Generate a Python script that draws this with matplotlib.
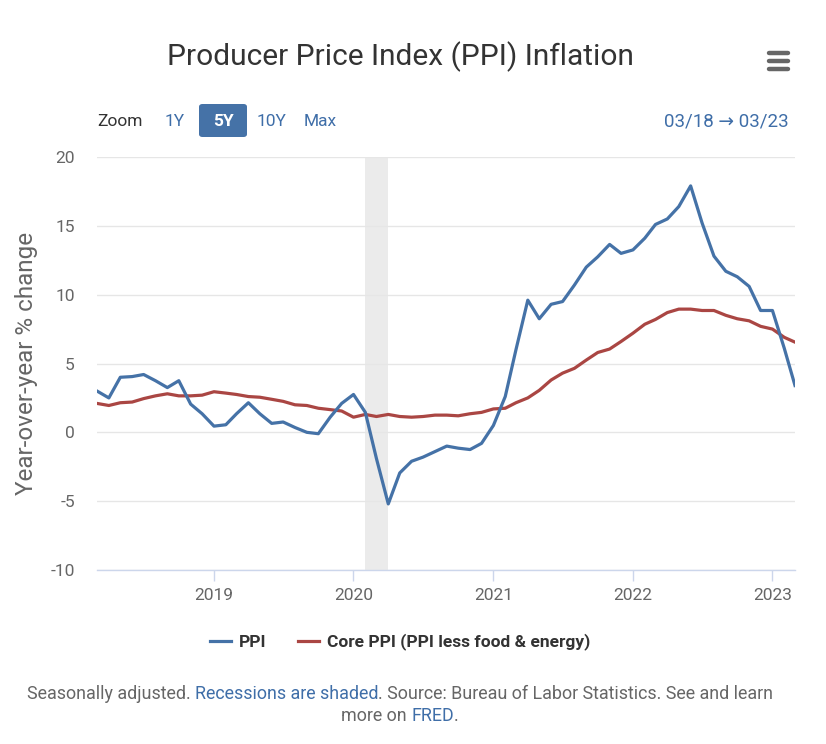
import numpy as np
import pandas as pd
import matplotlib
matplotlib.use("Agg")
import matplotlib.pyplot as plt
import matplotlib.dates as mdates
from matplotlib.patches import FancyBboxPatch
from matplotlib.lines import Line2D

plt.rcParams["font.family"] = ["Roboto", "DejaVu Sans"]

# ------------------------------------------------------------------
# DATA (monthly, Mar 2018 -> Mar 2023, YoY % change)
# ------------------------------------------------------------------
START_MONTH = "2018-03-01"

ppi = [
    3.0, 2.5, 4.0, 4.05, 4.2, 3.75, 3.25, 3.75, 2.05, 1.35, 0.45, 0.55,   # 2018-03 .. 2019-02
    1.35, 2.15, 1.35, 0.65, 0.75, 0.35, 0.0, -0.1, 1.1, 2.1, 2.75, 1.45,  # 2019-03 .. 2020-02
    -1.9, -5.2, -2.95, -2.1, -1.8, -1.4, -1.0, -1.15, -1.25, -0.8, 0.5,   # 2020-03 .. 2021-01
    2.6, 6.0, 9.6, 8.25, 9.3, 9.5, 10.7, 12.0, 12.75, 13.65, 13.0,        # 2021-02 .. 2021-12
    13.25, 14.1, 15.1, 15.5, 16.4, 17.9, 15.2, 12.8, 11.7, 11.3, 10.6,    # 2022-01 .. 2022-11
    8.85, 8.85, 6.1, 3.4,                                                 # 2022-12 .. 2023-03
]

core_ppi = [
    2.1, 1.95, 2.15, 2.2, 2.45, 2.65, 2.8, 2.65, 2.65, 2.7, 2.95, 2.85,   # 2018-03 .. 2019-02
    2.75, 2.6, 2.55, 2.4, 2.25, 2.0, 1.95, 1.75, 1.65, 1.55, 1.1, 1.3,    # 2019-03 .. 2020-02
    1.15, 1.3, 1.15, 1.1, 1.15, 1.25, 1.25, 1.2, 1.35, 1.45, 1.7,         # 2020-03 .. 2021-01
    1.75, 2.15, 2.5, 3.05, 3.8, 4.3, 4.65, 5.25, 5.8, 6.05, 6.6,          # 2021-02 .. 2021-12
    7.2, 7.85, 8.2, 8.7, 8.95, 8.95, 8.85, 8.85, 8.5, 8.25, 8.1,          # 2022-01 .. 2022-11
    7.7, 7.5, 6.9, 6.55,                                                  # 2022-12 .. 2023-03
]

RECESSION = ("2020-02-01", "2020-04-01")

SERIES_NAMES = ["PPI", "Core PPI (PPI less food & energy)"]
Y_TICKS = [-10, -5, 0, 5, 10, 15, 20]
X_TICK_YEARS = [2019, 2020, 2021, 2022, 2023]

# ------------------------------------------------------------------
# STYLE
# ------------------------------------------------------------------
W, H = 826, 744
BLUE = "#4572A7"
RED = "#AA4643"
TEXT_DARK = "#333333"
TEXT_GRAY = "#666666"
LINK_BLUE = "#3f6ea8"
GRID = "#e6e6e6"


def fx(x):
    return x / W


def fy(y):
    return 1 - y / H


dates = pd.date_range(START_MONTH, periods=len(ppi), freq="MS")

fig = plt.figure(figsize=(W / 100, H / 100), dpi=100)
ax = fig.add_axes([fx(97), fy(570), (795 - 97) / W, (570 - 157) / H])

# recession band
ax.axvspan(pd.Timestamp(RECESSION[0]), pd.Timestamp(RECESSION[1]),
           color="#ebebeb", lw=0, zorder=0)

ax.plot(dates, ppi, color=BLUE, lw=2.3, solid_joinstyle="round", zorder=3)
ax.plot(dates, core_ppi, color=RED, lw=2.3, solid_joinstyle="round", zorder=2)

ax.set_xlim(dates[0], dates[-1])
ax.set_ylim(-10, 20)
ax.set_yticks(Y_TICKS)
ax.set_yticklabels([str(v) for v in Y_TICKS])
ax.yaxis.grid(True, color=GRID, lw=1)
ax.set_axisbelow(True)

ax.set_xticks([pd.Timestamp(f"{y}-01-01") for y in X_TICK_YEARS])
ax.xaxis.set_major_formatter(mdates.DateFormatter("%Y"))

for s in ["top", "right", "left"]:
    ax.spines[s].set_visible(False)
ax.spines["bottom"].set_color("#ccd6eb")
ax.spines["bottom"].set_linewidth(1)

ax.tick_params(axis="y", length=0, pad=16, labelsize=12.5, labelcolor=TEXT_GRAY)
ax.tick_params(axis="x", length=8, width=1, color="#ccd6eb", pad=5,
               labelsize=12.5, labelcolor=TEXT_GRAY)

ax.set_ylabel("Year-over-year % change", fontsize=17.5, color=TEXT_GRAY)
ax.yaxis.set_label_coords(fx(38 - 97) / ((795 - 97) / W), 0.5)

# ------------------------------------------------------------------
# header: title, menu icon, zoom buttons
# ------------------------------------------------------------------
fig.text(fx(400), fy(57), "Producer Price Index (PPI) Inflation",
         ha="center", va="center", fontsize=21.5, color=TEXT_DARK)

for yy in (53, 61, 69):
    fig.add_artist(Line2D([fx(769), fx(788)], [fy(yy), fy(yy)], color="#666666",
                          lw=3.2, solid_capstyle="round"))

fig.text(fx(97), fy(121), "Zoom", ha="left", va="center", fontsize=12.5, color=TEXT_DARK)
fig.add_artist(FancyBboxPatch((fx(199), fy(137)), fx(48), (137 - 104) / H,
                              boxstyle="round,pad=0,rounding_size=0.004",
                              facecolor=BLUE, edgecolor="none"))
fig.text(fx(175), fy(121), "1Y", ha="center", va="center", fontsize=12.5, color=LINK_BLUE)
fig.text(fx(223), fy(121), "5Y", ha="center", va="center", fontsize=12.5,
         color="white", fontweight="bold")
fig.text(fx(271), fy(121), "10Y", ha="center", va="center", fontsize=12.5, color=LINK_BLUE)
fig.text(fx(320), fy(121), "Max", ha="center", va="center", fontsize=12.5, color=LINK_BLUE)
fig.text(fx(789), fy(121), "03/18 \u2192 03/23", ha="right", va="center",
         fontsize=13.5, color=LINK_BLUE)

# ------------------------------------------------------------------
# legend
# ------------------------------------------------------------------
handles = [Line2D([], [], color=BLUE, lw=2.3), Line2D([], [], color=RED, lw=2.3)]
fig.legend(handles, SERIES_NAMES, loc="center", bbox_to_anchor=(fx(400), fy(642)),
           ncol=2, frameon=False, handlelength=1.2, handletextpad=0.45,
           columnspacing=1.85, prop={"size": 12.5, "weight": "bold"},
           labelcolor=TEXT_DARK)

# ------------------------------------------------------------------
# footer with coloured link segments
# ------------------------------------------------------------------
def segmented_line(parts, y_px, size=12.9, center_px=400):
    fig.canvas.draw()
    r = fig.canvas.get_renderer()
    texts = [fig.text(0, fy(y_px), s, fontsize=size, color=c, va="center", ha="left")
             for s, c in parts]
    widths = [t.get_window_extent(r).width for t in texts]
    x = center_px - sum(widths) / 2
    for t, w in zip(texts, widths):
        t.set_x(fx(x))
        x += w


FOOT_GRAY = "#666666"
segmented_line([("Seasonally adjusted. ", FOOT_GRAY),
                ("Recessions are shaded", LINK_BLUE),
                (". Source: Bureau of Labor Statistics. See and learn", FOOT_GRAY)], 694)
segmented_line([("more on ", FOOT_GRAY), ("FRED", LINK_BLUE), (".", FOOT_GRAY)], 716)

fig.savefig("out.png", dpi=100, facecolor="white")
